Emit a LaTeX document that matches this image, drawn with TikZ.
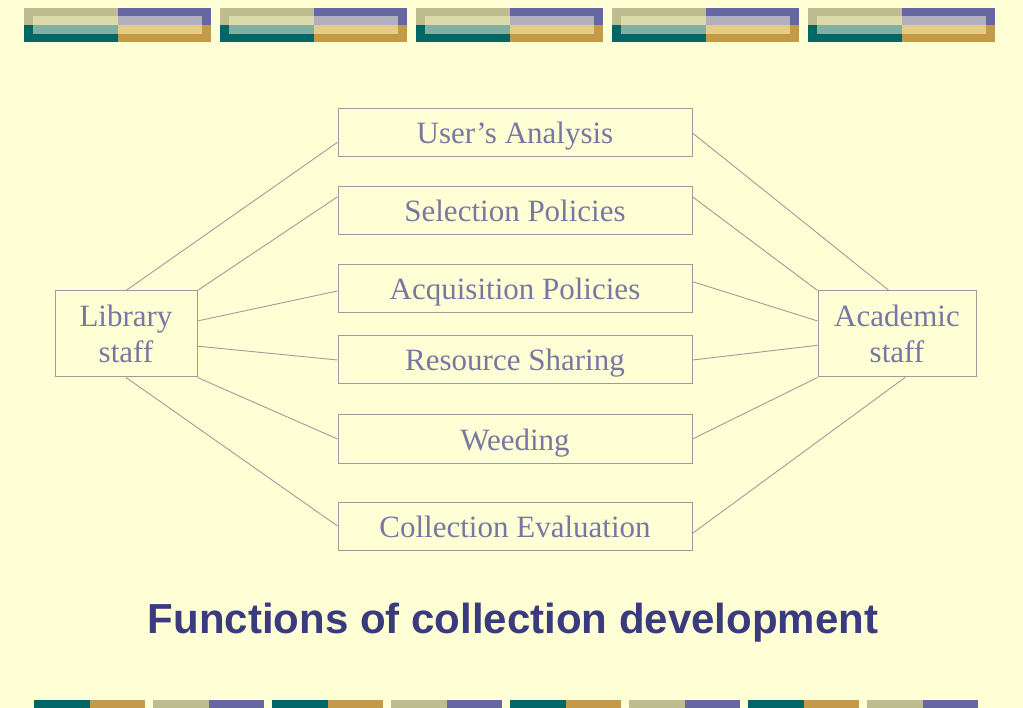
\documentclass[tikz,border=0pt]{standalone}
\usepackage{fontspec}
\setmainfont{Liberation Serif}
\newfontfamily\titlefont{Liberation Sans}
\usetikzlibrary{positioning,calc}
\definecolor{bgYellow}{HTML}{FFFFD5}
\definecolor{mKhaki}{HTML}{BDBD8F}
\definecolor{mPurple}{HTML}{6666A0}
\definecolor{mTeal}{HTML}{006666}
\definecolor{mGold}{HTML}{C49A48}
\definecolor{lKhaki}{HTML}{DADAAA}
\definecolor{lPurple}{HTML}{B0B0C0}
\definecolor{lTeal}{HTML}{80B0A0}
\definecolor{lGold}{HTML}{E5CC88}
\definecolor{boxText}{HTML}{7777A3}
\definecolor{lineGray}{HTML}{9C9C9C}
\definecolor{titleBlue}{HTML}{3A3A7F}
\tikzset{
  func/.style={draw=lineGray, line width=1pt, text=boxText, inner sep=0pt,
    minimum width=354pt, minimum height=48pt, text height=22pt, text depth=0pt,
    font=\fontsize{31}{36}\selectfont},
  staff/.style={draw=lineGray, line width=1pt, text=boxText, inner sep=0pt,
    minimum height=86pt, align=center, font=\fontsize{31}{36}\selectfont},
  link/.style={draw=lineGray, line width=0.9pt}
}
\begin{document}
\begin{tikzpicture}[x=1pt,y=-1pt]
    % Slide background
    \fill[bgYellow] (0,0) rectangle (1023,708);
    \useasboundingbox (0,0) rectangle (1023,708);

    % Top banner
    \foreach \i in {0,...,4} {
      \pgfmathsetmacro{\xa}{24+196*\i}
      \fill[mKhaki]  (\xa,8) rectangle ++(94,17);
      \fill[mPurple] (\xa+94,8) rectangle ++(93,17);
      \fill[mTeal]   (\xa,25) rectangle ++(94,17);
      \fill[mGold]   (\xa+94,25) rectangle ++(93,17);
      \fill[lKhaki]  (\xa+9,16) rectangle ++(85,9);
      \fill[lPurple] (\xa+94,16) rectangle ++(84,9);
      \fill[lTeal]   (\xa+9,25) rectangle ++(85,9);
      \fill[lGold]   (\xa+94,25) rectangle ++(84,9);
    }

    % Bottom banner
    \foreach \i in {0,...,7} {
      \pgfmathsetmacro{\xa}{34+119*\i}
      \ifodd\i
        \fill[mKhaki]  (\xa,700) rectangle ++(55.5,8);
        \fill[mPurple] (\xa+55.5,700) rectangle ++(55.5,8);
      \else
        \fill[mTeal]   (\xa,700) rectangle ++(55.5,8);
        \fill[mGold]   (\xa+55.5,700) rectangle ++(55.5,8);
      \fi
    }

    % Functions (middle column)
    \node[func] (ua) at (515,133) {User's Analysis};
    \node[func] (sp) at (515,211) {Selection Policies};
    \node[func] (ap) at (515,289) {Acquisition Policies};
    \node[func] (rs) at (515,360) {Resource Sharing};
    \node[func] (wd) at (515,439) {Weeding};
    \node[func] (ce) at (515,526) {Collection Evaluation};

    % Staff on both sides
    \node[staff, minimum width=142pt] (lib) at (126,334) {Library\\staff};
    \node[staff, minimum width=158pt] (acad) at (897,334) {Academic\\staff};

    % Library staff links
    \draw[link] (lib.north) -- ($(ua.north west)!0.69!(ua.south west)$);
    \draw[link] (lib.north east) -- ($(sp.north west)!0.21!(sp.south west)$);
    \draw[link] ($(lib.north east)!0.35!(lib.south east)$) -- ($(ap.north west)!0.54!(ap.south west)$);
    \draw[link] ($(lib.north east)!0.64!(lib.south east)$) -- (rs.west);
    \draw[link] (lib.south east) -- (wd.west);
    \draw[link] (lib.south) -- (ce.west);

    % Academic staff links
    \draw[link] (ua.east) -- ($(acad.north)+(-8,0)$);
    \draw[link] ($(sp.north east)!0.21!(sp.south east)$) -- (acad.north west);
    \draw[link] ($(ap.north east)!0.35!(ap.south east)$) -- ($(acad.north west)!0.35!(acad.south west)$);
    \draw[link] (rs.east) -- ($(acad.north west)!0.63!(acad.south west)$);
    \draw[link] (wd.east) -- (acad.south west);
    \draw[link] ($(ce.north east)!0.65!(ce.south east)$) -- ($(acad.south)+(8,0)$);

    % Title
    \node[titleBlue, anchor=base, font=\titlefont\bfseries\fontsize{42}{50}\selectfont]
      (title) at (513,633) {Functions of collection development};
\end{tikzpicture}
\end{document}
